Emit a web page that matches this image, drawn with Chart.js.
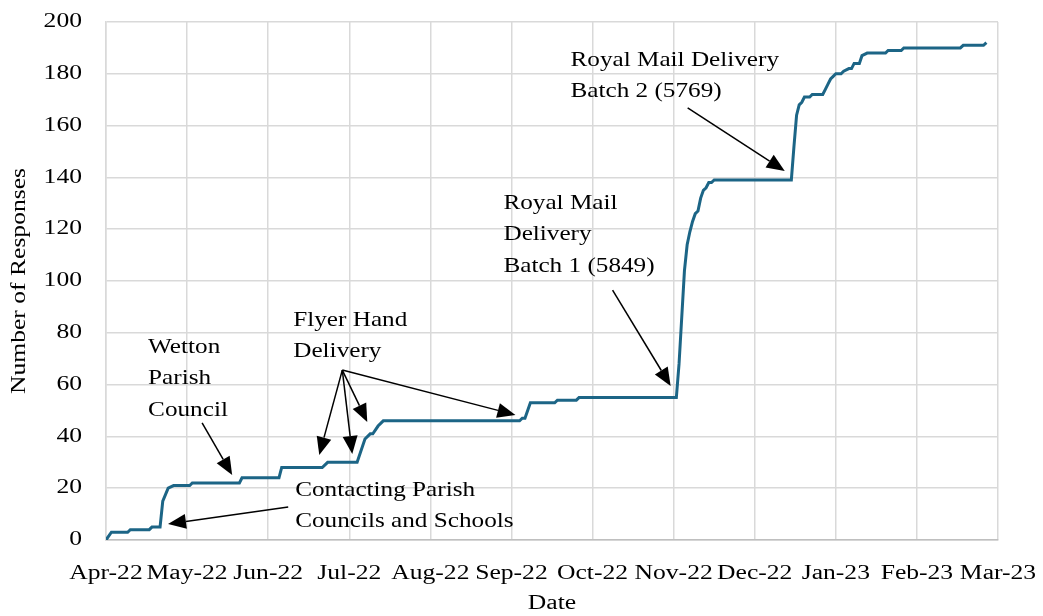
<!DOCTYPE html>
<html>
<head>
<meta charset="utf-8">
<script src="https://cdn.jsdelivr.net/npm/chart.js@4"></script>
<style>
  html, body { margin: 0; padding: 0; background: #fff; }
  #wrap { width: 1043px; height: 616px; position: relative; }
</style>
</head>
<body>
<div id="wrap"><canvas id="c" width="1043" height="616"></canvas></div>
<script>
// ---- data ----
const monthLabels = ["Apr-22","May-22","Jun-22","Jul-22","Aug-22","Sep-22","Oct-22","Nov-22","Dec-22","Jan-23","Feb-23","Mar-23"];
const yTicks = [0,20,40,60,80,100,120,140,160,180,200];

const dates = [
  "2022-04-01","2022-04-03","2022-04-09","2022-04-10","2022-04-17","2022-04-18","2022-04-21","2022-04-22","2022-04-24","2022-04-26",
  "2022-05-02","2022-05-03","2022-05-21","2022-05-22",
  "2022-06-05","2022-06-06","2022-06-21","2022-06-23",
  "2022-07-04","2022-07-07","2022-07-09","2022-07-10","2022-07-12","2022-07-14",
  "2022-09-04","2022-09-05","2022-09-06","2022-09-08","2022-09-17","2022-09-18","2022-09-25","2022-09-26",
  "2022-11-02","2022-11-03","2022-11-04","2022-11-05","2022-11-06","2022-11-07","2022-11-08","2022-11-09","2022-11-10","2022-11-11","2022-11-12","2022-11-13","2022-11-14","2022-11-15","2022-11-16",
  "2022-12-15","2022-12-16","2022-12-17","2022-12-18","2022-12-19","2022-12-20","2022-12-22","2022-12-23","2022-12-27","2022-12-28","2022-12-29","2022-12-30","2022-12-31",
  "2023-01-01","2023-01-03","2023-01-04","2023-01-06","2023-01-07","2023-01-08","2023-01-10","2023-01-11","2023-01-13","2023-01-20","2023-01-21","2023-01-26","2023-01-27",
  "2023-02-16","2023-02-17","2023-02-24","2023-02-25"
];
const responses = [
  0,3,3,4,4,5,5,15,20,21,
  21,22,22,24,
  24,28,28,30,
  30,39,41,41,44,46,
  46,47,47,53,53,54,54,55,
  55,68,86,104,114,119,123,126,127,132,135,136,138,138,139,
  139,152,164,168,169,171,171,172,172,174,176,178,179,
  180,180,181,182,182,184,184,187,188,188,189,189,190,
  190,191,191,192
];

// annotation texts and anchors (axis units: month index, responses)
const annotationTexts = [
  ["Contacting Parish","Councils and Schools"],
  ["Wetton","Parish","Council"],
  ["Flyer Hand","Delivery"],
  ["Royal Mail","Delivery","Batch 1 (5849)"],
  ["Royal Mail Delivery","Batch 2 (5769)"]
];
const annotationAnchors = [[2.333,19.3],[0.519,74.5],[2.309,84.9],[4.901,130.1],[5.728,185.3]];
const arrowFrom = [[2.247,12.7],[1.185,45.2],[2.914,65.6],[2.914,65.6],[2.914,65.6],[2.914,65.6],[6.247,96.5],[7.173,166.8]];
const arrowTo   = [[0.765,6.2],[1.556,25.1],[2.630,32.8],[3.037,33.2],[3.222,45.6],[5.049,48.3],[6.963,59.5],[8.370,142.5]];

// ---- helpers ----
function monthIndex(s){
  const p = s.split('-').map(Number);
  const idx = (p[0]-2022)*12 + (p[1]-4);
  const dim = new Date(p[0], p[1], 0).getDate();
  return idx + (p[2]-1)/dim;
}
const points = dates.map((d,i)=>({x: monthIndex(d), y: responses[i]}));

const FONT = "'Liberation Serif', 'Times New Roman', serif";

// the reference serif face is wider than Times; widen glyphs along the text direction
let TEXT_STRETCH = 1.28;
const _fillText = CanvasRenderingContext2D.prototype.fillText;
CanvasRenderingContext2D.prototype.fillText = function(t, x, y, maxW){
  this.save();
  this.translate(x, y);
  this.scale(TEXT_STRETCH, 1);
  if (maxW === undefined) _fillText.call(this, t, 0, 0);
  else _fillText.call(this, t, 0, 0, maxW / TEXT_STRETCH);
  this.restore();
};

const annotPlugin = {
  id: 'annot',
  afterDraw(chart){
    const ctx = chart.ctx, xs = chart.scales.x, ys = chart.scales.y;
    ctx.save();
    const prev = TEXT_STRETCH;
    TEXT_STRETCH = 1.2;
    ctx.fillStyle = '#000';
    ctx.font = "21px " + FONT;
    ctx.textAlign = 'left';
    ctx.textBaseline = 'middle';
    annotationTexts.forEach((lines,i)=>{
      const x = xs.getPixelForValue(annotationAnchors[i][0]);
      const y = ys.getPixelForValue(annotationAnchors[i][1]);
      lines.forEach((t,j)=>ctx.fillText(t, x, y + j*31.5));
    });
    TEXT_STRETCH = prev;
    ctx.strokeStyle = '#000';
    ctx.lineWidth = 1.5;
    arrowFrom.forEach((f,i)=>{
      const x1 = xs.getPixelForValue(f[0]), y1 = ys.getPixelForValue(f[1]);
      const x2 = xs.getPixelForValue(arrowTo[i][0]), y2 = ys.getPixelForValue(arrowTo[i][1]);
      const a = Math.atan2(y2-y1, x2-x1);
      const L = 18, W = 7.5;
      const bx = x2 - L*Math.cos(a), by = y2 - L*Math.sin(a);
      ctx.beginPath(); ctx.moveTo(x1,y1); ctx.lineTo(bx,by); ctx.stroke();
      ctx.beginPath();
      ctx.moveTo(x2,y2);
      ctx.lineTo(bx + W*Math.sin(a), by - W*Math.cos(a));
      ctx.lineTo(bx - W*Math.sin(a), by + W*Math.cos(a));
      ctx.closePath(); ctx.fill();
    });
    ctx.restore();
  }
};

new Chart(document.getElementById('c'), {
  type: 'line',
  data: {
    datasets: [{
      data: points,
      borderColor: '#1c6586',
      borderWidth: 3,
      pointRadius: 0,
      tension: 0,
      fill: false
    }]
  },
  options: {
    responsive: false,
    animation: false,
    layout: { padding: { top: 22, right: 45, left: 0, bottom: 0 } },
    plugins: { legend: { display: false }, tooltip: { enabled: false } },
    scales: {
      x: {
        type: 'linear',
        min: 0, max: monthLabels.length - 1,
        afterBuildTicks(s){ s.ticks = monthLabels.map((_,i)=>({value:i})); },
        afterFit(s){ s.height = 76; s.paddingLeft = 0; s.paddingRight = 0; },
        ticks: {
          autoSkip: false, maxRotation: 0,
          callback: v => monthLabels[v],
          color: '#000', padding: 22,
          font: { family: FONT, size: 20 }
        },
        grid: { color: '#d9d9d9', lineWidth: 1.5, drawTicks: false },
        border: { color: '#bfbfbf', width: 1.5 },
        title: { display: true, text: 'Date', color: '#000', font: { family: FONT, size: 20 }, padding: { top: 0, bottom: 0 } }
      },
      y: {
        min: 0, max: 200,
        afterBuildTicks(s){ s.ticks = yTicks.map(v=>({value:v})); },
        afterFit(s){ s.width = 106; s.paddingTop = 0; s.paddingBottom = 0; },
        ticks: { color: '#000', padding: 24, font: { family: FONT, size: 20 } },
        grid: { color: '#d9d9d9', lineWidth: 1.5, drawTicks: false },
        border: { color: '#d9d9d9', width: 1.5 },
        title: { display: true, text: 'Number of Responses', color: '#000', font: { family: FONT, size: 20 }, padding: 8 }
      }
    }
  },
  plugins: [annotPlugin]
});
</script>
</body>
</html>
